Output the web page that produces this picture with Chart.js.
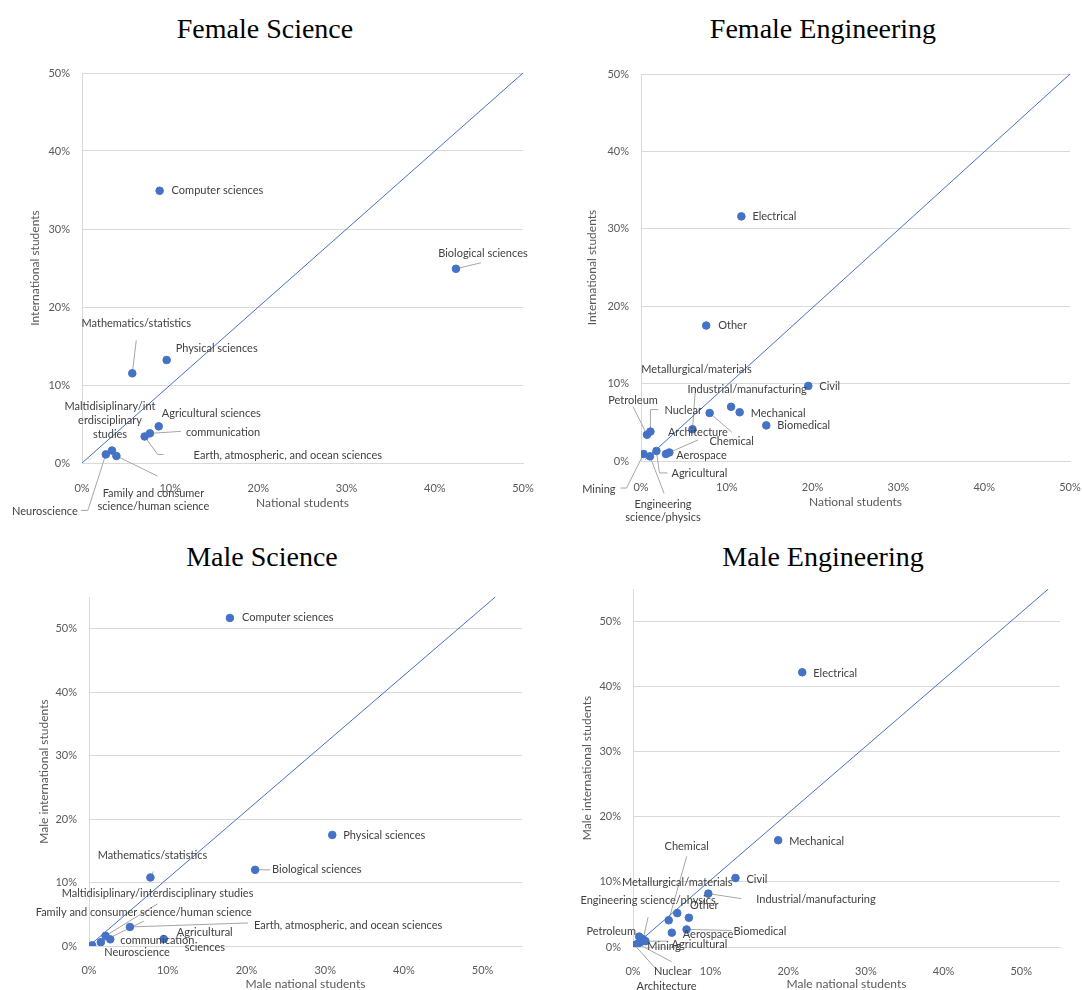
<!DOCTYPE html>
<html>
<head>
<meta charset="utf-8">
<script src="https://cdn.jsdelivr.net/npm/chart.js@4/dist/chart.umd.min.js"></script>
<style>
  body { margin: 0; background: #fff; width: 1082px; height: 990px; position: relative; overflow: hidden; }
  .ttl { position: absolute; width: 400px; text-align: center; font: 28px/28px "Liberation Serif", serif; color: #000; }
  canvas { position: absolute; }
</style>
</head>
<body>
<div class="ttl" style="left:65px;top:15px">Female Science</div>
<div class="ttl" style="left:623px;top:15px">Female Engineering</div>
<div class="ttl" style="left:62px;top:543px">Male Science</div>
<div class="ttl" style="left:623px;top:543px">Male Engineering</div>

<canvas id="fsci" width="541" height="480" style="left:0;top:50px"></canvas>
<canvas id="feng" width="541" height="480" style="left:541px;top:50px"></canvas>
<canvas id="msci" width="541" height="420" style="left:0;top:575px"></canvas>
<canvas id="meng" width="541" height="420" style="left:541px;top:575px"></canvas>

<script>
// --- data (percent of students) ---
const fsciNames = ['Computer sciences', 'Biological sciences', 'Mathematics/statistics', 'Physical sciences',
  'Agricultural sciences', 'communication', 'Earth, atmospheric, and ocean sciences',
  'Maltidisiplinary/interdisciplinary studies', 'Neuroscience', 'Family and consumer science/human science'];
const fsciNational = [8.8, 42.4, 5.7, 9.6, 8.7, 7.7, 7.1, 3.4, 2.7, 3.9];
const fsciIntl = [34.9, 24.9, 11.5, 13.2, 4.7, 3.8, 3.4, 1.6, 1.1, 0.9];
const fsciDiag = [[0, 0], [50, 50]];

const fengNames = ['Electrical', 'Other', 'Civil', 'Industrial/manufacturing', 'Mechanical', 'Biomedical',
  'Chemical', 'Metallurgical/materials', 'Architecture', 'Aerospace', 'Petroleum', 'Nuclear',
  'Agricultural', 'Mining', 'Engineering science/physics'];
const fengNational = [11.7, 7.6, 19.5, 10.5, 11.5, 14.6, 8.0, 6.0, 2.9, 3.3, 0.7, 1.1, 1.8, 0.3, 1.05];
const fengIntl = [31.6, 17.5, 9.7, 7.0, 6.3, 4.6, 6.2, 4.1, 0.9, 1.1, 3.4, 3.8, 1.3, 0.9, 0.6];
const fengDiag = [[0.5, 0.2], [50, 50]];

const msciNames = ['Computer sciences', 'Physical sciences', 'Biological sciences', 'Mathematics/statistics',
  'Maltidisiplinary/interdisciplinary studies', 'Family and consumer science/human science',
  'Earth, atmospheric, and ocean sciences', 'Agricultural sciences', 'communication', 'Neuroscience'];
const msciNational = [17.9, 30.9, 21.1, 7.8, 2.1, 1.5, 5.2, 9.5, 2.7, 0.4];
const msciIntl = [51.7, 17.5, 12.0, 10.8, 1.6, 0.6, 3.0, 1.1, 1.05, 0.1];
const msciDiag = [[0, 0], [51.6, 55]];

const mengNames = ['Electrical', 'Mechanical', 'Civil', 'Industrial/manufacturing', 'Metallurgical/materials',
  'Chemical', 'Other', 'Engineering science/physics', 'Biomedical', 'Aerospace', 'Petroleum',
  'Agricultural', 'Mining', 'Nuclear', 'Architecture'];
const mengNational = [21.8, 18.7, 13.2, 9.7, 5.7, 4.6, 7.2, 1.3, 6.9, 5.0, 0.8, 1.6, 0.9, 0.6, 0.2];
const mengIntl = [42.2, 16.4, 10.6, 8.2, 5.2, 4.1, 4.5, 1.2, 2.7, 2.2, 1.6, 0.9, 0.7, 0.5, 0.3];
const mengDiag = [[0, 0], [53.5, 55]];

const tickValues = [0, 10, 20, 30, 40, 50];

// --- label placement (pixel offsets from each point, leader line elbows) ---
const fsciPlace = [
  { dx: 12, dy: 0 },
  { dx: 27, dy: -15, al: 'center', lead: [[25, -6]] },
  { dx: 4, dy: -50, al: 'center', lead: [[4, -33]] },
  { dx: 9, dy: -12 },
  { dx: 3, dy: -13 },
  { dx: 36, dy: -1, lead: [[31, -2]] },
  { dx: 49, dy: 19, lead: [[13, 18], [19, 18]] },
  { dx: -2, dy: -44, al: 'center', br: [20, 34], lh: 14 },
  { dx: -28, dy: 57, al: 'right', lead: [[-18, 56], [-25, 56]] },
  { dx: 37, dy: 37, al: 'center', br: [19], lh: 13, lead: [[41, 20]] }
];
const fengPlace = [
  { dx: 11, dy: 0 },
  { dx: 12, dy: 0 },
  { dx: 11, dy: 1 },
  { dx: 16, dy: -17, al: 'center' },
  { dx: 11, dy: 1 },
  { dx: 11, dy: 0 },
  { dx: 22, dy: 28, al: 'center', lead: [[22, 19]] },
  { dx: 4, dy: -60, al: 'center', lead: [[3, -41]] },
  { dx: 32, dy: -22, al: 'center', lead: [[32, -14]] },
  { dx: 7, dy: 3 },
  { dx: -14, dy: -34, al: 'center', lead: [[-14, -28]] },
  { dx: 14, dy: -21, lead: [[0, -22], [8, -22]] },
  { dx: 15, dy: 23, lead: [[3, 22], [11, 22]] },
  { dx: -28, dy: 35, al: 'right', lead: [[-17, 34], [-23, 34]] },
  { dx: 13, dy: 48, al: 'center', br: [11], lh: 13, lead: [[14, 37]] }
];
const msciPlace = [
  { dx: 12, dy: 0 },
  { dx: 11, dy: 0 },
  { dx: 17, dy: 0, lead: [[15, 0]] },
  { dx: 2, dy: -22, al: 'center', lead: [[3, -6]] },
  { dx: 52, dy: -42, al: 'center', lead: [[52, -32]] },
  { dx: 43, dy: -30, al: 'center', lead: [[43, -21]] },
  { dx: 124, dy: -2, lead: [[118, -4]] },
  { dx: 41, dy: -7, al: 'center', br: [12], lh: 15 },
  { dx: 10, dy: 1 },
  { dx: 12, dy: 7 }
];
const mengPlace = [
  { dx: 11, dy: 1 },
  { dx: 11, dy: 1 },
  { dx: 11, dy: 1 },
  { dx: 48, dy: 6, lead: [[33, 5]] },
  { dx: 0, dy: -31, al: 'center' },
  { dx: 18, dy: -74, al: 'center', lead: [[18, -64]] },
  { dx: 1, dy: -12 },
  { dx: 5, dy: -39, al: 'center', lead: [[5, -22]] },
  { dx: 47, dy: 2, lead: [[45, 1]] },
  { dx: 11, dy: 2 },
  { dx: -28, dy: -5, al: 'center' },
  { dx: 54, dy: 3, al: 'center', lead: [[22, 0]] },
  { dx: 24, dy: 4, al: 'center' },
  { dx: 35, dy: 28, al: 'center', lead: [[34, 18]] },
  { dx: 32, dy: 41, al: 'center', lead: [[26, 29]] }
];

const BLUE = '#4472C4', GRID = '#d9d9d9', TICK = '#595959', LABEL = '#404040', LEAD = '#a6a6a6';

function splitAt(s, br) {
  if (!br) return [s];
  const out = [];
  let last = 0;
  br.forEach(b => { out.push(s.slice(last, b).trim()); last = b; });
  out.push(s.slice(last).trim());
  return out;
}

// data labels with leader lines, Excel style
const pointLabels = {
  id: 'pointLabels',
  beforeDatasetsDraw(chart, args, o) {
    const ctx = chart.ctx;
    ctx.save();
    ctx.strokeStyle = LEAD;
    ctx.lineWidth = 1;
    chart.getDatasetMeta(0).data.forEach((el, i) => {
      const p = o.place[i];
      if (!p || !p.lead) return;
      ctx.beginPath();
      ctx.moveTo(el.x, el.y);
      p.lead.forEach(([dx, dy]) => ctx.lineTo(el.x + dx, el.y + dy));
      ctx.stroke();
    });
    ctx.restore();
  },
  afterDatasetsDraw(chart, args, o) {
    const ctx = chart.ctx;
    ctx.save();
    ctx.font = '11px Lato';
    ctx.fillStyle = LABEL;
    ctx.textBaseline = 'middle';
    chart.getDatasetMeta(0).data.forEach((el, i) => {
      const p = o.place[i];
      if (!p) return;
      ctx.textAlign = p.al || 'left';
      splitAt(o.names[i], p.br).forEach((t, k) => {
        ctx.fillText(t, el.x + p.dx, el.y + p.dy + k * (p.lh || 14));
      });
    });
    ctx.restore();
  }
};

function makeChart(id, c) {
  const tickFont = { family: 'Lato', size: 11 };
  const titleFont = { family: 'Lato', size: 12 };
  const keepTicks = s => { s.ticks = tickValues.filter(v => v <= c.max).map(v => ({ value: v })); };
  new Chart(document.getElementById(id), {
    type: 'scatter',
    data: {
      datasets: [
        {
          data: c.nat.map((v, i) => ({ x: v, y: c.intl[i] })),
          pointRadius: 3.8,
          pointBorderWidth: 1,
          backgroundColor: BLUE,
          borderColor: BLUE
        },
        {
          data: c.diag.map(([x, y]) => ({ x, y })),
          showLine: true,
          pointRadius: 0,
          borderColor: BLUE,
          borderWidth: 1
        }
      ]
    },
    options: {
      responsive: false,
      animation: false,
      events: [],
      layout: { padding: c.pad },
      plugins: {
        legend: { display: false },
        tooltip: { enabled: false },
        pointLabels: { names: c.names, place: c.place }
      },
      scales: {
        x: {
          type: 'linear',
          min: 0,
          max: c.max,
          afterBuildTicks: keepTicks,
          // fixed axis box, no extra room for the overhanging end labels
          afterFit: s => { s.height = c.xH; s.paddingLeft = 0; s.paddingRight = 0; },
          ticks: { font: tickFont, color: TICK, padding: c.xTickPad, callback: v => v + '%' },
          grid: { display: false },
          border: { display: true, color: GRID },
          title: { display: true, text: c.xTitle, font: titleFont, color: TICK, padding: { top: 0, bottom: c.xTitlePad } }
        },
        y: {
          type: 'linear',
          min: 0,
          max: c.max,
          afterBuildTicks: keepTicks,
          afterFit: s => { s.width = c.yW; s.paddingTop = 0; s.paddingBottom = 0; },
          ticks: { font: tickFont, color: TICK, padding: 12, callback: v => v + '%' },
          grid: { color: GRID, drawTicks: false },
          border: { display: true, color: GRID },
          title: { display: true, text: c.yTitle, font: titleFont, color: TICK, padding: { top: c.yTitlePad, bottom: 0 } }
        }
      }
    },
    plugins: [pointLabels]
  });
}

makeChart('fsci', {
  names: fsciNames, nat: fsciNational, intl: fsciIntl, diag: fsciDiag, place: fsciPlace,
  max: 50, yW: 82, xH: 67, pad: { left: 0, right: 18, top: 23, bottom: 0 },
  xTickPad: 11, xTitlePad: 20, yTitlePad: 28,
  xTitle: 'National students', yTitle: 'International students'
});
makeChart('feng', {
  names: fengNames, nat: fengNational, intl: fengIntl, diag: fengDiag, place: fengPlace,
  max: 50, yW: 100, xH: 69, pad: { left: 0, right: 12, top: 24, bottom: 0 },
  xTickPad: 12, xTitlePad: 21, yTitlePad: 44,
  xTitle: 'National students', yTitle: 'International students'
});
makeChart('msci', {
  names: msciNames, nat: msciNational, intl: msciIntl, diag: msciDiag, place: msciPlace,
  max: 55, yW: 89, xH: 49, pad: { left: 0, right: 19, top: 22, bottom: 0 },
  xTickPad: 10, xTitlePad: 4, yTitlePad: 37,
  xTitle: 'Male national students', yTitle: 'Male international students'
});
makeChart('meng', {
  names: mengNames, nat: mengNational, intl: mengIntl, diag: mengDiag, place: mengPlace,
  max: 55, yW: 92, xH: 48, pad: { left: 0, right: 22, top: 14, bottom: 0 },
  xTickPad: 10, xTitlePad: 4, yTitlePad: 39,
  xTitle: 'Male national students', yTitle: 'Male international students'
});
</script>
</body>
</html>
